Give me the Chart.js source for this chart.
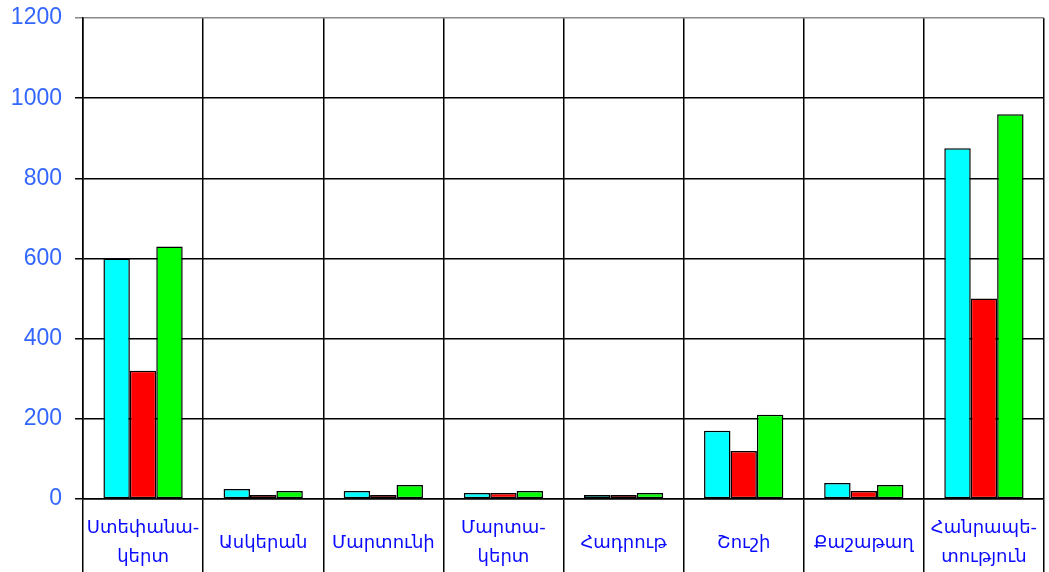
<!DOCTYPE html>
<html>
<head>
<meta charset="utf-8">
<script src="https://cdn.jsdelivr.net/npm/chart.js@4/dist/chart.umd.min.js"></script>
<style>
  html, body { margin: 0; padding: 0; background: #fff; }
  #wrap { width: 1049px; height: 572px; position: relative; }
</style>
</head>
<body>
<div id="wrap"><canvas id="chart"></canvas></div>
<script>
// ------------ Données ------------
const categories = [
  ["Ստեփանա-", "կերտ"],
  "Ասկերան",
  "Մարտունի",
  ["Մարտա-", "կերտ"],
  "Հադրութ",
  "Շուշի",
  "Քաշաթաղ",
  ["Հանրապե-", "տություն"]
];
const seriesCyan  = [600, 25, 20, 15, 10, 170, 40, 875];
const seriesRed   = [320, 10, 10, 15, 10, 120, 20, 500];
const seriesGreen = [630, 20, 35, 20, 15, 210, 35, 960];
const yTicks = [0, 200, 400, 600, 800, 1000, 1200];

const ctx = document.getElementById("chart").getContext("2d");
new Chart(ctx, {
  type: "bar",
  data: {
    labels: categories,
    datasets: [
      { label: "1", data: seriesCyan,  backgroundColor: "#00ffff" },
      { label: "2", data: seriesRed,   backgroundColor: "#ff0000" },
      { label: "3", data: seriesGreen, backgroundColor: "#00ff00" }
    ].map(d => ({ ...d, borderColor: "#000", borderWidth: 1.5, borderSkipped: false,
                  categoryPercentage: 0.66, barPercentage: 1.0 }))
  },
  options: {
    responsive: true,
    maintainAspectRatio: false,
    animation: false,
    layout: { padding: { top: 18, right: 5, left: 0, bottom: 0 } },
    plugins: { legend: { display: false }, tooltip: { enabled: false } },
    scales: {
      x: {
        offset: true,
        grid: { offset: true, color: "#000", lineWidth: 1.5, tickLength: 73, drawTicks: true },
        border: { color: "#000", width: 1.5 },
        ticks: {
          color: "#0a0aff",
          font: { family: "'DejaVu Sans'", size: 18, lineHeight: 1.65 },
          padding: -44,
          crossAlign: "center",
          maxRotation: 0,
          autoSkip: false
        },
        afterFit: (s) => { s.height = 73; s.paddingLeft = 0; s.paddingRight = 0; }
      },
      y: {
        min: yTicks[0],
        max: yTicks[yTicks.length - 1],
        afterBuildTicks: (s) => { s.ticks = yTicks.map(v => ({ value: v })); },
        grid: {
          color: (c) => c.tick && c.tick.value === 1200 ? "#888" : "#000",
          lineWidth: 1.5,
          tickLength: 8
        },
        border: { color: "#000", width: 1.5 },
        ticks: {
          color: "#3366ff",
          font: { family: "'Liberation Sans', Arial", size: 23 },
          padding: 13,
          callback: (v) => String(v)
        },
        afterFit: (s) => { s.width = 83; s.paddingTop = 0; s.paddingBottom = 0; }
      }
    }
  }
});
</script>
</body>
</html>
